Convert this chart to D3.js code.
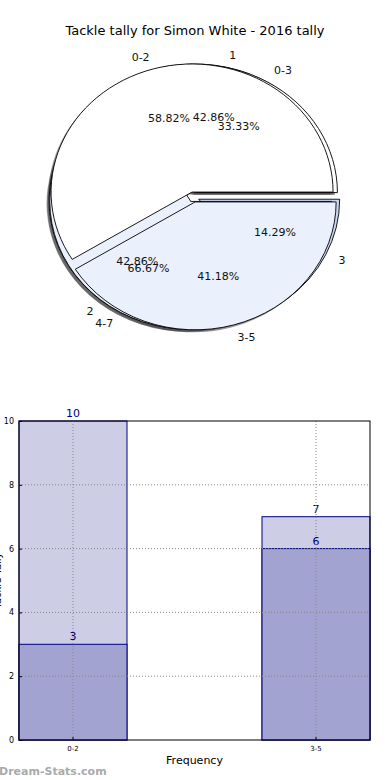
<!DOCTYPE html>
<html>
<head>
<meta charset="utf-8">
<script src="https://cdn.jsdelivr.net/npm/d3@7"></script>
<style>
  body { margin: 0; background: #fff; }
  svg text { font-family: "DejaVu Sans", sans-serif; }
</style>
</head>
<body>
<div id="container"></div>
<script>
// pies, drawn bottom to top
const tallyLabels = ['1', '2', '3'];
const tallyValues = [3, 3, 1];
const wideLabels = ['0-3', '4-7'];
const wideValues = [1, 2];
const rangeLabels = ['0-2', '3-5'];
const rangeValues = [10, 7];

// bars
const barCategories = ['0-2', '3-5'];
const barOuter = [10, 7];
const barInner = [3, 6];
const yTicks = [0, 2, 4, 6, 8, 10];

let w = 390, h = 780;

let viz = d3.select('#container')
    .append('svg')
      .attr('width', w)
      .attr('height', h)
      .style('background', '#fff');

function main() {
    viz.append('text')
        .attr('x', 195).attr('y', 35)
        .attr('text-anchor', 'middle')
        .attr('font-size', 13)
        .text('Tackle tally for Simon White - 2016 tally');

    // ---- pie part ----
    let cx = 193.6, cy = 197, rx = 141, ry = 128, explode = 0.04;
    let pies = [
        { labels: tallyLabels, values: tallyValues, colors: ['#ffffff', '#eaf0fc', '#c9d6f2'] },
        { labels: wideLabels, values: wideValues, colors: ['#ffffff', '#eaf0fc'] },
        { labels: rangeLabels, values: rangeValues, colors: ['#ffffff', '#eaf0fc'] }
    ];

    // matplotlib style: start at 3 o'clock, counter clockwise
    let pieGen = d3.pie().sort(null)
        .startAngle(Math.PI / 2)
        .endAngle(Math.PI / 2 - 2 * Math.PI);
    let arc = d3.arc().innerRadius(0).outerRadius(1);

    pies.forEach(p => {
        let total = d3.sum(p.values);
        p.arcs = pieGen(p.values).map((a, i) => {
            let mid = (a.startAngle + a.endAngle) / 2;
            return {
                a: a,
                mid: mid,
                dx: explode * Math.sin(mid) * rx,
                dy: -explode * Math.cos(mid) * ry,
                label: p.labels[i],
                pct: (100 * a.value / total).toFixed(2) + '%',
                color: p.colors[i]
            };
        });
    });

    let shadows = viz.append('g');
    let wedges = viz.append('g');
    let texts = viz.append('g').attr('font-size', 11).attr('fill', '#111');

    pies.forEach(p => {
        p.arcs.forEach(d => {
            shadows.append('path')
                .attr('d', arc(d.a))
                .attr('transform', 'translate(' + (cx + d.dx - 2.5) + ',' + (cy + d.dy + 2.5) + ') scale(' + rx + ',' + ry + ')')
                .attr('fill', '#444')
                .attr('opacity', 0.55);
        });
    });

    pies.forEach(p => {
        p.arcs.forEach(d => {
            wedges.append('path')
                .attr('d', arc(d.a))
                .attr('transform', 'translate(' + (cx + d.dx) + ',' + (cy + d.dy) + ') scale(' + rx + ',' + ry + ')')
                .attr('fill', d.color)
                .attr('stroke', '#000')
                .attr('stroke-width', 0.9)
                .attr('vector-effect', 'non-scaling-stroke');
        });
    });

    pies.forEach(p => {
        p.arcs.forEach(d => {
            let ux = Math.sin(d.mid), uy = -Math.cos(d.mid);
            let ox = cx + d.dx, oy = cy + d.dy;
            texts.append('text')
                .attr('x', ox + 1.1 * rx * ux)
                .attr('y', oy + 1.1 * ry * uy)
                .attr('dy', '0.35em')
                .attr('text-anchor', ux > 0 ? 'start' : 'end')
                .text(d.label);
            texts.append('text')
                .attr('x', ox + 0.6 * rx * ux)
                .attr('y', oy + 0.6 * ry * uy)
                .attr('dy', '0.35em')
                .attr('text-anchor', 'middle')
                .text(d.pct);
        });
    });

    // ---- bar part ----
    let left = 19, right = 370, top = 421, bottom = 740;

    let x = d3.scaleBand()
        .domain(barCategories)
        .range([left, right])
        .paddingInner(0.5556)
        .paddingOuter(0);
    let y = d3.scaleLinear().domain([0, 10]).range([bottom, top]);

    let bars = viz.append('g');
    barCategories.forEach((c, i) => {
        bars.append('rect')
            .attr('x', x(c)).attr('y', y(barOuter[i]))
            .attr('width', x.bandwidth()).attr('height', y(0) - y(barOuter[i]))
            .attr('fill', '#cdcde6').attr('stroke', '#000080').attr('stroke-width', 1);
        bars.append('rect')
            .attr('x', x(c)).attr('y', y(barInner[i]))
            .attr('width', x.bandwidth()).attr('height', y(0) - y(barInner[i]))
            .attr('fill', '#a3a3d1').attr('stroke', '#000080').attr('stroke-width', 1);
        bars.append('text')
            .attr('x', x(c) + x.bandwidth() / 2).attr('y', y(barOuter[i]) - 4)
            .attr('text-anchor', 'middle').attr('font-size', 11).attr('fill', '#000080')
            .text(barOuter[i]);
        bars.append('text')
            .attr('x', x(c) + x.bandwidth() / 2).attr('y', y(barInner[i]) - 4)
            .attr('text-anchor', 'middle').attr('font-size', 11).attr('fill', '#000080')
            .text(barInner[i]);
    });

    // grid on top of bars like matplotlib
    yTicks.slice(1, -1).forEach(t => {
        viz.append('line')
            .attr('x1', left).attr('x2', right)
            .attr('y1', y(t)).attr('y2', y(t))
            .attr('stroke', '#888').attr('stroke-dasharray', '1,2');
    });
    barCategories.forEach(c => {
        viz.append('line')
            .attr('x1', x(c) + x.bandwidth() / 2).attr('x2', x(c) + x.bandwidth() / 2)
            .attr('y1', top).attr('y2', bottom)
            .attr('stroke', '#888').attr('stroke-dasharray', '1,2');
    });

    let yAxis = viz.append('g')
        .attr('transform', 'translate(' + left + ',0)')
        .call(d3.axisLeft(y).tickValues(yTicks).tickSize(-3).tickPadding(5));
    yAxis.select('.domain').remove();
    yAxis.selectAll('text').attr('font-size', 8).attr('font-family', 'DejaVu Sans');

    let xAxis = viz.append('g')
        .attr('transform', 'translate(0,' + bottom + ')')
        .call(d3.axisBottom(x).tickSize(-3).tickPadding(6));
    xAxis.select('.domain').remove();
    xAxis.selectAll('.tick').attr('transform', d => 'translate(' + (x(d) + x.bandwidth() / 2) + ',0)');
    xAxis.selectAll('text').attr('font-size', 7).attr('font-family', 'DejaVu Sans');

    viz.append('rect')
        .attr('x', left).attr('y', top)
        .attr('width', right - left).attr('height', bottom - top)
        .attr('fill', 'none').attr('stroke', '#000').attr('stroke-width', 1);

    viz.append('text')
        .attr('x', (left + right) / 2).attr('y', 764)
        .attr('text-anchor', 'middle').attr('font-size', 11)
        .text('Frequency');

    viz.append('text')
        .attr('transform', 'translate(1,' + (top + bottom) / 2 + ') rotate(-90)')
        .attr('text-anchor', 'middle').attr('font-size', 10)
        .text('Tackle Tally');

    viz.append('text')
        .attr('x', -1).attr('y', 775)
        .attr('font-size', 11).attr('font-weight', 'bold')
        .attr('fill', '#aaa')
        .text('Dream-Stats.com');
}

main();
</script>
</body>
</html>
